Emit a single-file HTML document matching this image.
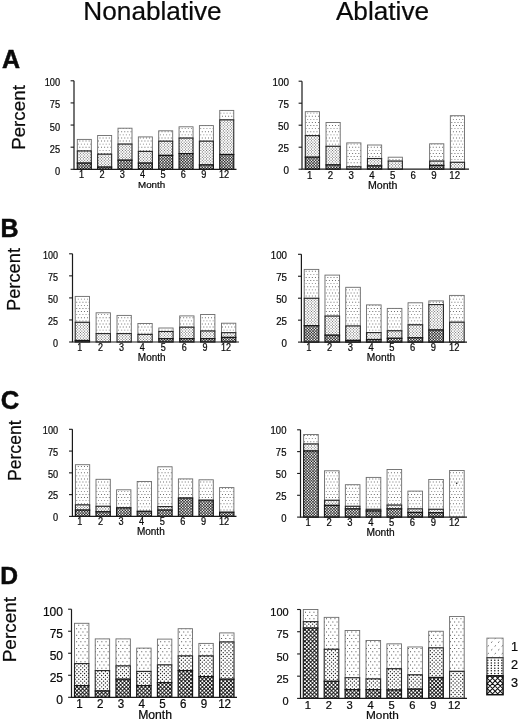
<!DOCTYPE html>
<html lang="en"><head><meta charset="utf-8"><title>Figure</title>
<style>
html,body{margin:0;padding:0;background:#fff;}
body{width:520px;height:720px;overflow:hidden;}
svg{display:block;font-family:"Liberation Sans",Arial,sans-serif;fill:#0a0a0a;}
text{stroke:#0a0a0a;stroke-width:0.22px;}
.pl text{stroke-width:0.5px;}
</style></head><body>
<svg width="520" height="720" viewBox="0 0 520 720">
<defs>
<pattern id="p1" width="31" height="31" patternUnits="userSpaceOnUse">
<rect width="31" height="31" fill="#fff"/>
<path fill="#606060" d="M0.33 1.1h0.9v0.9h-0.9zM1.88 4.2h0.9v0.9h-0.9zM0.33 7.3h0.9v0.9h-0.9zM1.88 10.4h0.9v0.9h-0.9zM0.33 13.5h0.9v0.9h-0.9zM1.88 16.6h0.9v0.9h-0.9zM0.33 19.7h0.9v0.9h-0.9zM1.88 22.8h0.9v0.9h-0.9zM0.33 25.9h0.9v0.9h-0.9zM1.88 29h0.9v0.9h-0.9zM3.42 1.1h0.9v0.9h-0.9zM4.97 4.2h0.9v0.9h-0.9zM3.42 7.3h0.9v0.9h-0.9zM4.97 10.4h0.9v0.9h-0.9zM3.42 13.5h0.9v0.9h-0.9zM4.97 16.6h0.9v0.9h-0.9zM3.42 19.7h0.9v0.9h-0.9zM4.97 22.8h0.9v0.9h-0.9zM3.42 25.9h0.9v0.9h-0.9zM4.97 29h0.9v0.9h-0.9zM6.53 1.1h0.9v0.9h-0.9zM8.08 4.2h0.9v0.9h-0.9zM6.53 7.3h0.9v0.9h-0.9zM8.08 10.4h0.9v0.9h-0.9zM6.53 13.5h0.9v0.9h-0.9zM8.08 16.6h0.9v0.9h-0.9zM6.53 19.7h0.9v0.9h-0.9zM8.08 22.8h0.9v0.9h-0.9zM6.53 25.9h0.9v0.9h-0.9zM8.08 29h0.9v0.9h-0.9zM9.63 1.1h0.9v0.9h-0.9zM11.18 4.2h0.9v0.9h-0.9zM9.63 7.3h0.9v0.9h-0.9zM11.18 10.4h0.9v0.9h-0.9zM9.63 13.5h0.9v0.9h-0.9zM11.18 16.6h0.9v0.9h-0.9zM9.63 19.7h0.9v0.9h-0.9zM11.18 22.8h0.9v0.9h-0.9zM9.63 25.9h0.9v0.9h-0.9zM11.18 29h0.9v0.9h-0.9zM12.73 1.1h0.9v0.9h-0.9zM14.28 4.2h0.9v0.9h-0.9zM12.73 7.3h0.9v0.9h-0.9zM14.28 10.4h0.9v0.9h-0.9zM12.73 13.5h0.9v0.9h-0.9zM14.28 16.6h0.9v0.9h-0.9zM12.73 19.7h0.9v0.9h-0.9zM14.28 22.8h0.9v0.9h-0.9zM12.73 25.9h0.9v0.9h-0.9zM14.28 29h0.9v0.9h-0.9zM15.83 1.1h0.9v0.9h-0.9zM17.38 4.2h0.9v0.9h-0.9zM15.83 7.3h0.9v0.9h-0.9zM17.38 10.4h0.9v0.9h-0.9zM15.83 13.5h0.9v0.9h-0.9zM17.38 16.6h0.9v0.9h-0.9zM15.83 19.7h0.9v0.9h-0.9zM17.38 22.8h0.9v0.9h-0.9zM15.83 25.9h0.9v0.9h-0.9zM17.38 29h0.9v0.9h-0.9zM18.93 1.1h0.9v0.9h-0.9zM20.48 4.2h0.9v0.9h-0.9zM18.93 7.3h0.9v0.9h-0.9zM20.48 10.4h0.9v0.9h-0.9zM18.93 13.5h0.9v0.9h-0.9zM20.48 16.6h0.9v0.9h-0.9zM18.93 19.7h0.9v0.9h-0.9zM20.48 22.8h0.9v0.9h-0.9zM18.93 25.9h0.9v0.9h-0.9zM20.48 29h0.9v0.9h-0.9zM22.03 1.1h0.9v0.9h-0.9zM23.58 4.2h0.9v0.9h-0.9zM22.03 7.3h0.9v0.9h-0.9zM23.58 10.4h0.9v0.9h-0.9zM22.03 13.5h0.9v0.9h-0.9zM23.58 16.6h0.9v0.9h-0.9zM22.03 19.7h0.9v0.9h-0.9zM23.58 22.8h0.9v0.9h-0.9zM22.03 25.9h0.9v0.9h-0.9zM23.58 29h0.9v0.9h-0.9zM25.12 1.1h0.9v0.9h-0.9zM26.68 4.2h0.9v0.9h-0.9zM25.12 7.3h0.9v0.9h-0.9zM26.68 10.4h0.9v0.9h-0.9zM25.12 13.5h0.9v0.9h-0.9zM26.68 16.6h0.9v0.9h-0.9zM25.12 19.7h0.9v0.9h-0.9zM26.68 22.8h0.9v0.9h-0.9zM25.12 25.9h0.9v0.9h-0.9zM26.68 29h0.9v0.9h-0.9zM28.23 1.1h0.9v0.9h-0.9zM29.78 4.2h0.9v0.9h-0.9zM28.23 7.3h0.9v0.9h-0.9zM29.78 10.4h0.9v0.9h-0.9zM28.23 13.5h0.9v0.9h-0.9zM29.78 16.6h0.9v0.9h-0.9zM28.23 19.7h0.9v0.9h-0.9zM29.78 22.8h0.9v0.9h-0.9zM28.23 25.9h0.9v0.9h-0.9zM29.78 29h0.9v0.9h-0.9z"/>
</pattern>
<pattern id="p2" width="14" height="14" patternUnits="userSpaceOnUse">
<rect width="14" height="14" fill="#fff"/>
<path fill="#5c5c5c" d="M0.14 0.7a0.56 0.56 0 1 0 1.12 0a0.56 0.56 0 1 0 -1.12 0zM1.54 2.1a0.56 0.56 0 1 0 1.12 0a0.56 0.56 0 1 0 -1.12 0zM0.14 3.5a0.56 0.56 0 1 0 1.12 0a0.56 0.56 0 1 0 -1.12 0zM1.54 4.9a0.56 0.56 0 1 0 1.12 0a0.56 0.56 0 1 0 -1.12 0zM0.14 6.3a0.56 0.56 0 1 0 1.12 0a0.56 0.56 0 1 0 -1.12 0zM1.54 7.7a0.56 0.56 0 1 0 1.12 0a0.56 0.56 0 1 0 -1.12 0zM0.14 9.1a0.56 0.56 0 1 0 1.12 0a0.56 0.56 0 1 0 -1.12 0zM1.54 10.5a0.56 0.56 0 1 0 1.12 0a0.56 0.56 0 1 0 -1.12 0zM0.14 11.9a0.56 0.56 0 1 0 1.12 0a0.56 0.56 0 1 0 -1.12 0zM1.54 13.3a0.56 0.56 0 1 0 1.12 0a0.56 0.56 0 1 0 -1.12 0zM2.94 0.7a0.56 0.56 0 1 0 1.12 0a0.56 0.56 0 1 0 -1.12 0zM4.34 2.1a0.56 0.56 0 1 0 1.12 0a0.56 0.56 0 1 0 -1.12 0zM2.94 3.5a0.56 0.56 0 1 0 1.12 0a0.56 0.56 0 1 0 -1.12 0zM4.34 4.9a0.56 0.56 0 1 0 1.12 0a0.56 0.56 0 1 0 -1.12 0zM2.94 6.3a0.56 0.56 0 1 0 1.12 0a0.56 0.56 0 1 0 -1.12 0zM4.34 7.7a0.56 0.56 0 1 0 1.12 0a0.56 0.56 0 1 0 -1.12 0zM2.94 9.1a0.56 0.56 0 1 0 1.12 0a0.56 0.56 0 1 0 -1.12 0zM4.34 10.5a0.56 0.56 0 1 0 1.12 0a0.56 0.56 0 1 0 -1.12 0zM2.94 11.9a0.56 0.56 0 1 0 1.12 0a0.56 0.56 0 1 0 -1.12 0zM4.34 13.3a0.56 0.56 0 1 0 1.12 0a0.56 0.56 0 1 0 -1.12 0zM5.74 0.7a0.56 0.56 0 1 0 1.12 0a0.56 0.56 0 1 0 -1.12 0zM7.14 2.1a0.56 0.56 0 1 0 1.12 0a0.56 0.56 0 1 0 -1.12 0zM5.74 3.5a0.56 0.56 0 1 0 1.12 0a0.56 0.56 0 1 0 -1.12 0zM7.14 4.9a0.56 0.56 0 1 0 1.12 0a0.56 0.56 0 1 0 -1.12 0zM5.74 6.3a0.56 0.56 0 1 0 1.12 0a0.56 0.56 0 1 0 -1.12 0zM7.14 7.7a0.56 0.56 0 1 0 1.12 0a0.56 0.56 0 1 0 -1.12 0zM5.74 9.1a0.56 0.56 0 1 0 1.12 0a0.56 0.56 0 1 0 -1.12 0zM7.14 10.5a0.56 0.56 0 1 0 1.12 0a0.56 0.56 0 1 0 -1.12 0zM5.74 11.9a0.56 0.56 0 1 0 1.12 0a0.56 0.56 0 1 0 -1.12 0zM7.14 13.3a0.56 0.56 0 1 0 1.12 0a0.56 0.56 0 1 0 -1.12 0zM8.54 0.7a0.56 0.56 0 1 0 1.12 0a0.56 0.56 0 1 0 -1.12 0zM9.94 2.1a0.56 0.56 0 1 0 1.12 0a0.56 0.56 0 1 0 -1.12 0zM8.54 3.5a0.56 0.56 0 1 0 1.12 0a0.56 0.56 0 1 0 -1.12 0zM9.94 4.9a0.56 0.56 0 1 0 1.12 0a0.56 0.56 0 1 0 -1.12 0zM8.54 6.3a0.56 0.56 0 1 0 1.12 0a0.56 0.56 0 1 0 -1.12 0zM9.94 7.7a0.56 0.56 0 1 0 1.12 0a0.56 0.56 0 1 0 -1.12 0zM8.54 9.1a0.56 0.56 0 1 0 1.12 0a0.56 0.56 0 1 0 -1.12 0zM9.94 10.5a0.56 0.56 0 1 0 1.12 0a0.56 0.56 0 1 0 -1.12 0zM8.54 11.9a0.56 0.56 0 1 0 1.12 0a0.56 0.56 0 1 0 -1.12 0zM9.94 13.3a0.56 0.56 0 1 0 1.12 0a0.56 0.56 0 1 0 -1.12 0zM11.34 0.7a0.56 0.56 0 1 0 1.12 0a0.56 0.56 0 1 0 -1.12 0zM12.74 2.1a0.56 0.56 0 1 0 1.12 0a0.56 0.56 0 1 0 -1.12 0zM11.34 3.5a0.56 0.56 0 1 0 1.12 0a0.56 0.56 0 1 0 -1.12 0zM12.74 4.9a0.56 0.56 0 1 0 1.12 0a0.56 0.56 0 1 0 -1.12 0zM11.34 6.3a0.56 0.56 0 1 0 1.12 0a0.56 0.56 0 1 0 -1.12 0zM12.74 7.7a0.56 0.56 0 1 0 1.12 0a0.56 0.56 0 1 0 -1.12 0zM11.34 9.1a0.56 0.56 0 1 0 1.12 0a0.56 0.56 0 1 0 -1.12 0zM12.74 10.5a0.56 0.56 0 1 0 1.12 0a0.56 0.56 0 1 0 -1.12 0zM11.34 11.9a0.56 0.56 0 1 0 1.12 0a0.56 0.56 0 1 0 -1.12 0zM12.74 13.3a0.56 0.56 0 1 0 1.12 0a0.56 0.56 0 1 0 -1.12 0z"/>
</pattern>
<pattern id="p3" width="14" height="14" patternUnits="userSpaceOnUse">
<rect width="14" height="14" fill="#1c1c1c"/>
<path fill="#fff" d="M-0.26 0.7L0.7 -0.26L1.66 0.7L0.7 1.66zM1.14 2.1L2.1 1.14L3.06 2.1L2.1 3.06zM-0.26 3.5L0.7 2.54L1.66 3.5L0.7 4.46zM1.14 4.9L2.1 3.94L3.06 4.9L2.1 5.86zM-0.26 6.3L0.7 5.34L1.66 6.3L0.7 7.26zM1.14 7.7L2.1 6.74L3.06 7.7L2.1 8.66zM-0.26 9.1L0.7 8.14L1.66 9.1L0.7 10.06zM1.14 10.5L2.1 9.54L3.06 10.5L2.1 11.46zM-0.26 11.9L0.7 10.94L1.66 11.9L0.7 12.86zM1.14 13.3L2.1 12.34L3.06 13.3L2.1 14.26zM2.54 0.7L3.5 -0.26L4.46 0.7L3.5 1.66zM3.94 2.1L4.9 1.14L5.86 2.1L4.9 3.06zM2.54 3.5L3.5 2.54L4.46 3.5L3.5 4.46zM3.94 4.9L4.9 3.94L5.86 4.9L4.9 5.86zM2.54 6.3L3.5 5.34L4.46 6.3L3.5 7.26zM3.94 7.7L4.9 6.74L5.86 7.7L4.9 8.66zM2.54 9.1L3.5 8.14L4.46 9.1L3.5 10.06zM3.94 10.5L4.9 9.54L5.86 10.5L4.9 11.46zM2.54 11.9L3.5 10.94L4.46 11.9L3.5 12.86zM3.94 13.3L4.9 12.34L5.86 13.3L4.9 14.26zM5.34 0.7L6.3 -0.26L7.26 0.7L6.3 1.66zM6.74 2.1L7.7 1.14L8.66 2.1L7.7 3.06zM5.34 3.5L6.3 2.54L7.26 3.5L6.3 4.46zM6.74 4.9L7.7 3.94L8.66 4.9L7.7 5.86zM5.34 6.3L6.3 5.34L7.26 6.3L6.3 7.26zM6.74 7.7L7.7 6.74L8.66 7.7L7.7 8.66zM5.34 9.1L6.3 8.14L7.26 9.1L6.3 10.06zM6.74 10.5L7.7 9.54L8.66 10.5L7.7 11.46zM5.34 11.9L6.3 10.94L7.26 11.9L6.3 12.86zM6.74 13.3L7.7 12.34L8.66 13.3L7.7 14.26zM8.14 0.7L9.1 -0.26L10.06 0.7L9.1 1.66zM9.54 2.1L10.5 1.14L11.46 2.1L10.5 3.06zM8.14 3.5L9.1 2.54L10.06 3.5L9.1 4.46zM9.54 4.9L10.5 3.94L11.46 4.9L10.5 5.86zM8.14 6.3L9.1 5.34L10.06 6.3L9.1 7.26zM9.54 7.7L10.5 6.74L11.46 7.7L10.5 8.66zM8.14 9.1L9.1 8.14L10.06 9.1L9.1 10.06zM9.54 10.5L10.5 9.54L11.46 10.5L10.5 11.46zM8.14 11.9L9.1 10.94L10.06 11.9L9.1 12.86zM9.54 13.3L10.5 12.34L11.46 13.3L10.5 14.26zM10.94 0.7L11.9 -0.26L12.86 0.7L11.9 1.66zM12.34 2.1L13.3 1.14L14.26 2.1L13.3 3.06zM10.94 3.5L11.9 2.54L12.86 3.5L11.9 4.46zM12.34 4.9L13.3 3.94L14.26 4.9L13.3 5.86zM10.94 6.3L11.9 5.34L12.86 6.3L11.9 7.26zM12.34 7.7L13.3 6.74L14.26 7.7L13.3 8.66zM10.94 9.1L11.9 8.14L12.86 9.1L11.9 10.06zM12.34 10.5L13.3 9.54L14.26 10.5L13.3 11.46zM10.94 11.9L11.9 10.94L12.86 11.9L11.9 12.86zM12.34 13.3L13.3 12.34L14.26 13.3L13.3 14.26z"/>
</pattern>
<pattern id="q1" width="21" height="33" patternUnits="userSpaceOnUse">
<rect width="21" height="33" fill="#fff"/>
<path fill="#484848" d="M0.57 1.17h0.96v0.96h-0.96zM2.67 4.47h0.96v0.96h-0.96zM0.57 7.77h0.96v0.96h-0.96zM2.67 11.07h0.96v0.96h-0.96zM0.57 14.37h0.96v0.96h-0.96zM2.67 17.67h0.96v0.96h-0.96zM0.57 20.97h0.96v0.96h-0.96zM2.67 24.27h0.96v0.96h-0.96zM0.57 27.57h0.96v0.96h-0.96zM2.67 30.87h0.96v0.96h-0.96zM4.77 1.17h0.96v0.96h-0.96zM6.87 4.47h0.96v0.96h-0.96zM4.77 7.77h0.96v0.96h-0.96zM6.87 11.07h0.96v0.96h-0.96zM4.77 14.37h0.96v0.96h-0.96zM6.87 17.67h0.96v0.96h-0.96zM4.77 20.97h0.96v0.96h-0.96zM6.87 24.27h0.96v0.96h-0.96zM4.77 27.57h0.96v0.96h-0.96zM6.87 30.87h0.96v0.96h-0.96zM8.97 1.17h0.96v0.96h-0.96zM11.07 4.47h0.96v0.96h-0.96zM8.97 7.77h0.96v0.96h-0.96zM11.07 11.07h0.96v0.96h-0.96zM8.97 14.37h0.96v0.96h-0.96zM11.07 17.67h0.96v0.96h-0.96zM8.97 20.97h0.96v0.96h-0.96zM11.07 24.27h0.96v0.96h-0.96zM8.97 27.57h0.96v0.96h-0.96zM11.07 30.87h0.96v0.96h-0.96zM13.17 1.17h0.96v0.96h-0.96zM15.27 4.47h0.96v0.96h-0.96zM13.17 7.77h0.96v0.96h-0.96zM15.27 11.07h0.96v0.96h-0.96zM13.17 14.37h0.96v0.96h-0.96zM15.27 17.67h0.96v0.96h-0.96zM13.17 20.97h0.96v0.96h-0.96zM15.27 24.27h0.96v0.96h-0.96zM13.17 27.57h0.96v0.96h-0.96zM15.27 30.87h0.96v0.96h-0.96zM17.37 1.17h0.96v0.96h-0.96zM19.47 4.47h0.96v0.96h-0.96zM17.37 7.77h0.96v0.96h-0.96zM19.47 11.07h0.96v0.96h-0.96zM17.37 14.37h0.96v0.96h-0.96zM19.47 17.67h0.96v0.96h-0.96zM17.37 20.97h0.96v0.96h-0.96zM19.47 24.27h0.96v0.96h-0.96zM17.37 27.57h0.96v0.96h-0.96zM19.47 30.87h0.96v0.96h-0.96z"/>
</pattern>
<pattern id="q2" width="19" height="19" patternUnits="userSpaceOnUse">
<rect width="19" height="19" fill="#fff"/>
<path fill="#222" d="M0.25 0.95a0.7 0.7 0 1 0 1.4 0a0.7 0.7 0 1 0 -1.4 0zM2.15 2.85a0.7 0.7 0 1 0 1.4 0a0.7 0.7 0 1 0 -1.4 0zM0.25 4.75a0.7 0.7 0 1 0 1.4 0a0.7 0.7 0 1 0 -1.4 0zM2.15 6.65a0.7 0.7 0 1 0 1.4 0a0.7 0.7 0 1 0 -1.4 0zM0.25 8.55a0.7 0.7 0 1 0 1.4 0a0.7 0.7 0 1 0 -1.4 0zM2.15 10.45a0.7 0.7 0 1 0 1.4 0a0.7 0.7 0 1 0 -1.4 0zM0.25 12.35a0.7 0.7 0 1 0 1.4 0a0.7 0.7 0 1 0 -1.4 0zM2.15 14.25a0.7 0.7 0 1 0 1.4 0a0.7 0.7 0 1 0 -1.4 0zM0.25 16.15a0.7 0.7 0 1 0 1.4 0a0.7 0.7 0 1 0 -1.4 0zM2.15 18.05a0.7 0.7 0 1 0 1.4 0a0.7 0.7 0 1 0 -1.4 0zM4.05 0.95a0.7 0.7 0 1 0 1.4 0a0.7 0.7 0 1 0 -1.4 0zM5.95 2.85a0.7 0.7 0 1 0 1.4 0a0.7 0.7 0 1 0 -1.4 0zM4.05 4.75a0.7 0.7 0 1 0 1.4 0a0.7 0.7 0 1 0 -1.4 0zM5.95 6.65a0.7 0.7 0 1 0 1.4 0a0.7 0.7 0 1 0 -1.4 0zM4.05 8.55a0.7 0.7 0 1 0 1.4 0a0.7 0.7 0 1 0 -1.4 0zM5.95 10.45a0.7 0.7 0 1 0 1.4 0a0.7 0.7 0 1 0 -1.4 0zM4.05 12.35a0.7 0.7 0 1 0 1.4 0a0.7 0.7 0 1 0 -1.4 0zM5.95 14.25a0.7 0.7 0 1 0 1.4 0a0.7 0.7 0 1 0 -1.4 0zM4.05 16.15a0.7 0.7 0 1 0 1.4 0a0.7 0.7 0 1 0 -1.4 0zM5.95 18.05a0.7 0.7 0 1 0 1.4 0a0.7 0.7 0 1 0 -1.4 0zM7.85 0.95a0.7 0.7 0 1 0 1.4 0a0.7 0.7 0 1 0 -1.4 0zM9.75 2.85a0.7 0.7 0 1 0 1.4 0a0.7 0.7 0 1 0 -1.4 0zM7.85 4.75a0.7 0.7 0 1 0 1.4 0a0.7 0.7 0 1 0 -1.4 0zM9.75 6.65a0.7 0.7 0 1 0 1.4 0a0.7 0.7 0 1 0 -1.4 0zM7.85 8.55a0.7 0.7 0 1 0 1.4 0a0.7 0.7 0 1 0 -1.4 0zM9.75 10.45a0.7 0.7 0 1 0 1.4 0a0.7 0.7 0 1 0 -1.4 0zM7.85 12.35a0.7 0.7 0 1 0 1.4 0a0.7 0.7 0 1 0 -1.4 0zM9.75 14.25a0.7 0.7 0 1 0 1.4 0a0.7 0.7 0 1 0 -1.4 0zM7.85 16.15a0.7 0.7 0 1 0 1.4 0a0.7 0.7 0 1 0 -1.4 0zM9.75 18.05a0.7 0.7 0 1 0 1.4 0a0.7 0.7 0 1 0 -1.4 0zM11.65 0.95a0.7 0.7 0 1 0 1.4 0a0.7 0.7 0 1 0 -1.4 0zM13.55 2.85a0.7 0.7 0 1 0 1.4 0a0.7 0.7 0 1 0 -1.4 0zM11.65 4.75a0.7 0.7 0 1 0 1.4 0a0.7 0.7 0 1 0 -1.4 0zM13.55 6.65a0.7 0.7 0 1 0 1.4 0a0.7 0.7 0 1 0 -1.4 0zM11.65 8.55a0.7 0.7 0 1 0 1.4 0a0.7 0.7 0 1 0 -1.4 0zM13.55 10.45a0.7 0.7 0 1 0 1.4 0a0.7 0.7 0 1 0 -1.4 0zM11.65 12.35a0.7 0.7 0 1 0 1.4 0a0.7 0.7 0 1 0 -1.4 0zM13.55 14.25a0.7 0.7 0 1 0 1.4 0a0.7 0.7 0 1 0 -1.4 0zM11.65 16.15a0.7 0.7 0 1 0 1.4 0a0.7 0.7 0 1 0 -1.4 0zM13.55 18.05a0.7 0.7 0 1 0 1.4 0a0.7 0.7 0 1 0 -1.4 0zM15.45 0.95a0.7 0.7 0 1 0 1.4 0a0.7 0.7 0 1 0 -1.4 0zM17.35 2.85a0.7 0.7 0 1 0 1.4 0a0.7 0.7 0 1 0 -1.4 0zM15.45 4.75a0.7 0.7 0 1 0 1.4 0a0.7 0.7 0 1 0 -1.4 0zM17.35 6.65a0.7 0.7 0 1 0 1.4 0a0.7 0.7 0 1 0 -1.4 0zM15.45 8.55a0.7 0.7 0 1 0 1.4 0a0.7 0.7 0 1 0 -1.4 0zM17.35 10.45a0.7 0.7 0 1 0 1.4 0a0.7 0.7 0 1 0 -1.4 0zM15.45 12.35a0.7 0.7 0 1 0 1.4 0a0.7 0.7 0 1 0 -1.4 0zM17.35 14.25a0.7 0.7 0 1 0 1.4 0a0.7 0.7 0 1 0 -1.4 0zM15.45 16.15a0.7 0.7 0 1 0 1.4 0a0.7 0.7 0 1 0 -1.4 0zM17.35 18.05a0.7 0.7 0 1 0 1.4 0a0.7 0.7 0 1 0 -1.4 0z"/>
</pattern>
<pattern id="q3" width="19" height="19" patternUnits="userSpaceOnUse">
<rect width="19" height="19" fill="#1c1c1c"/>
<path fill="#fff" d="M-0.05 0.95a1.0 1.0 0 1 0 2 0a1.0 1.0 0 1 0 -2 0zM1.85 2.85a1.0 1.0 0 1 0 2 0a1.0 1.0 0 1 0 -2 0zM-0.05 4.75a1.0 1.0 0 1 0 2 0a1.0 1.0 0 1 0 -2 0zM1.85 6.65a1.0 1.0 0 1 0 2 0a1.0 1.0 0 1 0 -2 0zM-0.05 8.55a1.0 1.0 0 1 0 2 0a1.0 1.0 0 1 0 -2 0zM1.85 10.45a1.0 1.0 0 1 0 2 0a1.0 1.0 0 1 0 -2 0zM-0.05 12.35a1.0 1.0 0 1 0 2 0a1.0 1.0 0 1 0 -2 0zM1.85 14.25a1.0 1.0 0 1 0 2 0a1.0 1.0 0 1 0 -2 0zM-0.05 16.15a1.0 1.0 0 1 0 2 0a1.0 1.0 0 1 0 -2 0zM1.85 18.05a1.0 1.0 0 1 0 2 0a1.0 1.0 0 1 0 -2 0zM3.75 0.95a1.0 1.0 0 1 0 2 0a1.0 1.0 0 1 0 -2 0zM5.65 2.85a1.0 1.0 0 1 0 2 0a1.0 1.0 0 1 0 -2 0zM3.75 4.75a1.0 1.0 0 1 0 2 0a1.0 1.0 0 1 0 -2 0zM5.65 6.65a1.0 1.0 0 1 0 2 0a1.0 1.0 0 1 0 -2 0zM3.75 8.55a1.0 1.0 0 1 0 2 0a1.0 1.0 0 1 0 -2 0zM5.65 10.45a1.0 1.0 0 1 0 2 0a1.0 1.0 0 1 0 -2 0zM3.75 12.35a1.0 1.0 0 1 0 2 0a1.0 1.0 0 1 0 -2 0zM5.65 14.25a1.0 1.0 0 1 0 2 0a1.0 1.0 0 1 0 -2 0zM3.75 16.15a1.0 1.0 0 1 0 2 0a1.0 1.0 0 1 0 -2 0zM5.65 18.05a1.0 1.0 0 1 0 2 0a1.0 1.0 0 1 0 -2 0zM7.55 0.95a1.0 1.0 0 1 0 2 0a1.0 1.0 0 1 0 -2 0zM9.45 2.85a1.0 1.0 0 1 0 2 0a1.0 1.0 0 1 0 -2 0zM7.55 4.75a1.0 1.0 0 1 0 2 0a1.0 1.0 0 1 0 -2 0zM9.45 6.65a1.0 1.0 0 1 0 2 0a1.0 1.0 0 1 0 -2 0zM7.55 8.55a1.0 1.0 0 1 0 2 0a1.0 1.0 0 1 0 -2 0zM9.45 10.45a1.0 1.0 0 1 0 2 0a1.0 1.0 0 1 0 -2 0zM7.55 12.35a1.0 1.0 0 1 0 2 0a1.0 1.0 0 1 0 -2 0zM9.45 14.25a1.0 1.0 0 1 0 2 0a1.0 1.0 0 1 0 -2 0zM7.55 16.15a1.0 1.0 0 1 0 2 0a1.0 1.0 0 1 0 -2 0zM9.45 18.05a1.0 1.0 0 1 0 2 0a1.0 1.0 0 1 0 -2 0zM11.35 0.95a1.0 1.0 0 1 0 2 0a1.0 1.0 0 1 0 -2 0zM13.25 2.85a1.0 1.0 0 1 0 2 0a1.0 1.0 0 1 0 -2 0zM11.35 4.75a1.0 1.0 0 1 0 2 0a1.0 1.0 0 1 0 -2 0zM13.25 6.65a1.0 1.0 0 1 0 2 0a1.0 1.0 0 1 0 -2 0zM11.35 8.55a1.0 1.0 0 1 0 2 0a1.0 1.0 0 1 0 -2 0zM13.25 10.45a1.0 1.0 0 1 0 2 0a1.0 1.0 0 1 0 -2 0zM11.35 12.35a1.0 1.0 0 1 0 2 0a1.0 1.0 0 1 0 -2 0zM13.25 14.25a1.0 1.0 0 1 0 2 0a1.0 1.0 0 1 0 -2 0zM11.35 16.15a1.0 1.0 0 1 0 2 0a1.0 1.0 0 1 0 -2 0zM13.25 18.05a1.0 1.0 0 1 0 2 0a1.0 1.0 0 1 0 -2 0zM15.15 0.95a1.0 1.0 0 1 0 2 0a1.0 1.0 0 1 0 -2 0zM17.05 2.85a1.0 1.0 0 1 0 2 0a1.0 1.0 0 1 0 -2 0zM15.15 4.75a1.0 1.0 0 1 0 2 0a1.0 1.0 0 1 0 -2 0zM17.05 6.65a1.0 1.0 0 1 0 2 0a1.0 1.0 0 1 0 -2 0zM15.15 8.55a1.0 1.0 0 1 0 2 0a1.0 1.0 0 1 0 -2 0zM17.05 10.45a1.0 1.0 0 1 0 2 0a1.0 1.0 0 1 0 -2 0zM15.15 12.35a1.0 1.0 0 1 0 2 0a1.0 1.0 0 1 0 -2 0zM17.05 14.25a1.0 1.0 0 1 0 2 0a1.0 1.0 0 1 0 -2 0zM15.15 16.15a1.0 1.0 0 1 0 2 0a1.0 1.0 0 1 0 -2 0zM17.05 18.05a1.0 1.0 0 1 0 2 0a1.0 1.0 0 1 0 -2 0z"/>
</pattern>
</defs>
<rect width="520" height="720" fill="#fff"/>
<text x="152.5" y="20.3" font-size="26.2" text-anchor="middle">Nonablative</text>
<text x="382.5" y="20.3" font-size="26.2" text-anchor="middle">Ablative</text>
<g class="pl" font-weight="bold" font-size="25">
<text x="2" y="67.8">A</text>
<text x="0.5" y="237.1">B</text>
<text x="0.8" y="409.2" font-size="25.6">C</text>
<text x="0.3" y="584.2" font-size="24.6">D</text>
</g>
<g font-size="18.8" text-anchor="middle">
<text transform="translate(24.9 117.5) rotate(-90)">Percent</text>
<text transform="translate(20.3 279.5) rotate(-90)" font-size="18.3">Percent</text>
<text transform="translate(20.6 450.7) rotate(-90)" font-size="17.6">Percent</text>
<text transform="translate(15.8 629.6) rotate(-90)" font-size="19">Percent</text>
</g>
<g id="AL">
<text transform="translate(81.6 178.2) scale(0.9 1)" font-size="10.2" text-anchor="middle">1</text>
<rect x="77.3" y="139.4" width="14" height="11.6" fill="url(#p1)" stroke="#6c6c6c" stroke-width="0.9"/>
<rect x="77.3" y="151" width="14" height="12.1" fill="url(#p2)" stroke="#262626" stroke-width="1.1"/>
<rect x="77.3" y="163.1" width="14" height="6.2" fill="url(#p3)" stroke="#161616" stroke-width="1.2"/>
<text transform="translate(101.95 178.2) scale(0.9 1)" font-size="10.2" text-anchor="middle">2</text>
<rect x="97.65" y="135.5" width="14" height="18.7" fill="url(#p1)" stroke="#6c6c6c" stroke-width="0.9"/>
<rect x="97.65" y="154.2" width="14" height="12.9" fill="url(#p2)" stroke="#262626" stroke-width="1.1"/>
<rect x="97.65" y="167.1" width="14" height="2.2" fill="url(#p3)" stroke="#161616" stroke-width="1.2"/>
<text transform="translate(122.3 178.2) scale(0.9 1)" font-size="10.2" text-anchor="middle">3</text>
<rect x="118" y="128.2" width="14" height="15.9" fill="url(#p1)" stroke="#6c6c6c" stroke-width="0.9"/>
<rect x="118" y="144.1" width="14" height="16.1" fill="url(#p2)" stroke="#262626" stroke-width="1.1"/>
<rect x="118" y="160.2" width="14" height="9.1" fill="url(#p3)" stroke="#161616" stroke-width="1.2"/>
<text transform="translate(142.65 178.2) scale(0.9 1)" font-size="10.2" text-anchor="middle">4</text>
<rect x="138.35" y="136.9" width="14" height="14.5" fill="url(#p1)" stroke="#6c6c6c" stroke-width="0.9"/>
<rect x="138.35" y="151.4" width="14" height="11.7" fill="url(#p2)" stroke="#262626" stroke-width="1.1"/>
<rect x="138.35" y="163.1" width="14" height="6.2" fill="url(#p3)" stroke="#161616" stroke-width="1.2"/>
<text transform="translate(163 178.2) scale(0.9 1)" font-size="10.2" text-anchor="middle">5</text>
<rect x="158.7" y="130.8" width="14" height="10.4" fill="url(#p1)" stroke="#6c6c6c" stroke-width="0.9"/>
<rect x="158.7" y="141.2" width="14" height="14.2" fill="url(#p2)" stroke="#262626" stroke-width="1.1"/>
<rect x="158.7" y="155.4" width="14" height="13.9" fill="url(#p3)" stroke="#161616" stroke-width="1.2"/>
<text transform="translate(183.35 178.2) scale(0.9 1)" font-size="10.2" text-anchor="middle">6</text>
<rect x="179.05" y="126.8" width="14" height="11.3" fill="url(#p1)" stroke="#6c6c6c" stroke-width="0.9"/>
<rect x="179.05" y="138.1" width="14" height="15.5" fill="url(#p2)" stroke="#262626" stroke-width="1.1"/>
<rect x="179.05" y="153.6" width="14" height="15.7" fill="url(#p3)" stroke="#161616" stroke-width="1.2"/>
<text transform="translate(203.7 178.2) scale(0.9 1)" font-size="10.2" text-anchor="middle">9</text>
<rect x="199.4" y="125.6" width="14" height="15.6" fill="url(#p1)" stroke="#6c6c6c" stroke-width="0.9"/>
<rect x="199.4" y="141.2" width="14" height="23.7" fill="url(#p2)" stroke="#262626" stroke-width="1.1"/>
<rect x="199.4" y="164.9" width="14" height="4.4" fill="url(#p3)" stroke="#161616" stroke-width="1.2"/>
<text transform="translate(224.05 178.2) scale(0.9 1)" font-size="10.2" text-anchor="middle">12</text>
<rect x="219.75" y="110.4" width="14" height="9.5" fill="url(#p1)" stroke="#6c6c6c" stroke-width="0.9"/>
<rect x="219.75" y="119.9" width="14" height="34.6" fill="url(#p2)" stroke="#262626" stroke-width="1.1"/>
<rect x="219.75" y="154.5" width="14" height="14.8" fill="url(#p3)" stroke="#161616" stroke-width="1.2"/>
<path d="M74 80.8V169.3H236.5" fill="none" stroke="#1a1a1a" stroke-width="1.2"/>
<path d="M70.6 169.3H74" stroke="#1a1a1a" stroke-width="1.1"/>
<text transform="translate(60.1 174.79) scale(0.9 1)" font-size="10.3" text-anchor="end">0</text>
<path d="M70.6 147.18H74" stroke="#1a1a1a" stroke-width="1.1"/>
<text transform="translate(60.1 152.66) scale(0.9 1)" font-size="10.3" text-anchor="end">25</text>
<path d="M70.6 125.05H74" stroke="#1a1a1a" stroke-width="1.1"/>
<text transform="translate(60.1 130.54) scale(0.9 1)" font-size="10.3" text-anchor="end">50</text>
<path d="M70.6 102.92H74" stroke="#1a1a1a" stroke-width="1.1"/>
<text transform="translate(60.1 108.41) scale(0.9 1)" font-size="10.3" text-anchor="end">75</text>
<path d="M70.6 80.8H74" stroke="#1a1a1a" stroke-width="1.1"/>
<text transform="translate(60.1 86.29) scale(0.9 1)" font-size="10.3" text-anchor="end">100</text>
<text transform="translate(151.6 188.25) scale(1 1)" font-size="9.8" text-anchor="middle">Month</text>
</g>
<g id="AR">
<text transform="translate(309.7 179.25) scale(0.93 1)" font-size="10.4" text-anchor="middle">1</text>
<rect x="305.3" y="111.7" width="14.2" height="23.9" fill="url(#p1)" stroke="#6c6c6c" stroke-width="0.9"/>
<rect x="305.3" y="135.6" width="14.2" height="21.6" fill="url(#p2)" stroke="#262626" stroke-width="1.1"/>
<rect x="305.3" y="157.2" width="14.2" height="12" fill="url(#p3)" stroke="#161616" stroke-width="1.2"/>
<text transform="translate(330.42 179.25) scale(0.93 1)" font-size="10.4" text-anchor="middle">2</text>
<rect x="326.02" y="122.5" width="14.2" height="23.8" fill="url(#p1)" stroke="#6c6c6c" stroke-width="0.9"/>
<rect x="326.02" y="146.3" width="14.2" height="18.6" fill="url(#p2)" stroke="#262626" stroke-width="1.1"/>
<rect x="326.02" y="164.9" width="14.2" height="4.3" fill="url(#p3)" stroke="#161616" stroke-width="1.2"/>
<text transform="translate(351.14 179.25) scale(0.93 1)" font-size="10.4" text-anchor="middle">3</text>
<rect x="346.74" y="142.9" width="14.2" height="23.9" fill="url(#p1)" stroke="#6c6c6c" stroke-width="0.9"/>
<rect x="346.74" y="166.8" width="14.2" height="2.4" fill="url(#p2)" stroke="#262626" stroke-width="1.1"/>
<text transform="translate(371.86 179.25) scale(0.93 1)" font-size="10.4" text-anchor="middle">4</text>
<rect x="367.46" y="145" width="14.2" height="13.5" fill="url(#p1)" stroke="#6c6c6c" stroke-width="0.9"/>
<rect x="367.46" y="158.5" width="14.2" height="7.4" fill="url(#p2)" stroke="#262626" stroke-width="1.1"/>
<rect x="367.46" y="165.9" width="14.2" height="3.3" fill="url(#p3)" stroke="#161616" stroke-width="1.2"/>
<text transform="translate(392.58 179.25) scale(0.93 1)" font-size="10.4" text-anchor="middle">5</text>
<rect x="388.18" y="157.2" width="14.2" height="3.9" fill="url(#p1)" stroke="#6c6c6c" stroke-width="0.9"/>
<rect x="388.18" y="161.1" width="14.2" height="8.1" fill="url(#p2)" stroke="#262626" stroke-width="1.1"/>
<text transform="translate(413.3 179.25) scale(0.93 1)" font-size="10.4" text-anchor="middle">6</text>
<text transform="translate(434.02 179.25) scale(0.93 1)" font-size="10.4" text-anchor="middle">9</text>
<rect x="429.62" y="143.8" width="14.2" height="17.3" fill="url(#p1)" stroke="#6c6c6c" stroke-width="0.9"/>
<rect x="429.62" y="161.1" width="14.2" height="4.3" fill="url(#p2)" stroke="#262626" stroke-width="1.1"/>
<rect x="429.62" y="165.4" width="14.2" height="3.8" fill="url(#p3)" stroke="#161616" stroke-width="1.2"/>
<text transform="translate(454.74 179.25) scale(0.93 1)" font-size="10.4" text-anchor="middle">12</text>
<rect x="450.34" y="115.7" width="14.2" height="46.6" fill="url(#p1)" stroke="#6c6c6c" stroke-width="0.9"/>
<rect x="450.34" y="162.3" width="14.2" height="6.9" fill="url(#p2)" stroke="#262626" stroke-width="1.1"/>
<path d="M302 81.2V169.2H469" fill="none" stroke="#1a1a1a" stroke-width="1.2"/>
<path d="M298.6 169.2H302" stroke="#1a1a1a" stroke-width="1.1"/>
<text transform="translate(289 174.29) scale(0.93 1)" font-size="10.6" text-anchor="end">0</text>
<path d="M298.6 147.2H302" stroke="#1a1a1a" stroke-width="1.1"/>
<text transform="translate(289 152.29) scale(0.93 1)" font-size="10.6" text-anchor="end">25</text>
<path d="M298.6 125.2H302" stroke="#1a1a1a" stroke-width="1.1"/>
<text transform="translate(289 130.29) scale(0.93 1)" font-size="10.6" text-anchor="end">50</text>
<path d="M298.6 103.2H302" stroke="#1a1a1a" stroke-width="1.1"/>
<text transform="translate(289 108.29) scale(0.93 1)" font-size="10.6" text-anchor="end">75</text>
<path d="M298.6 81.2H302" stroke="#1a1a1a" stroke-width="1.1"/>
<text transform="translate(289 86.29) scale(0.93 1)" font-size="10.6" text-anchor="end">100</text>
<text transform="translate(382.7 188.7) scale(1 1)" font-size="10.6" text-anchor="middle">Month</text>
</g>
<g id="BL">
<text transform="translate(79.65 351.16) scale(0.9 1)" font-size="10" text-anchor="middle">1</text>
<rect x="75.2" y="296.4" width="14.3" height="25.9" fill="url(#p1)" stroke="#6c6c6c" stroke-width="0.9"/>
<rect x="75.2" y="322.3" width="14.3" height="18.2" fill="url(#p2)" stroke="#262626" stroke-width="1.1"/>
<rect x="75.2" y="340.5" width="14.3" height="1.5" fill="url(#p3)" stroke="#161616" stroke-width="1.2"/>
<text transform="translate(100.55 351.16) scale(0.9 1)" font-size="10" text-anchor="middle">2</text>
<rect x="96.1" y="312.8" width="14.3" height="20.8" fill="url(#p1)" stroke="#6c6c6c" stroke-width="0.9"/>
<rect x="96.1" y="333.6" width="14.3" height="8.4" fill="url(#p2)" stroke="#262626" stroke-width="1.1"/>
<text transform="translate(121.45 351.16) scale(0.9 1)" font-size="10" text-anchor="middle">3</text>
<rect x="117" y="315.4" width="14.3" height="18.2" fill="url(#p1)" stroke="#6c6c6c" stroke-width="0.9"/>
<rect x="117" y="333.6" width="14.3" height="8.4" fill="url(#p2)" stroke="#262626" stroke-width="1.1"/>
<text transform="translate(142.35 351.16) scale(0.9 1)" font-size="10" text-anchor="middle">4</text>
<rect x="137.9" y="323.5" width="14.3" height="10.9" fill="url(#p1)" stroke="#6c6c6c" stroke-width="0.9"/>
<rect x="137.9" y="334.4" width="14.3" height="7.6" fill="url(#p2)" stroke="#262626" stroke-width="1.1"/>
<text transform="translate(163.25 351.16) scale(0.9 1)" font-size="10" text-anchor="middle">5</text>
<rect x="158.8" y="328" width="14.3" height="3.5" fill="url(#p1)" stroke="#6c6c6c" stroke-width="0.9"/>
<rect x="158.8" y="331.5" width="14.3" height="7.2" fill="url(#p2)" stroke="#262626" stroke-width="1.1"/>
<rect x="158.8" y="338.7" width="14.3" height="3.3" fill="url(#p3)" stroke="#161616" stroke-width="1.2"/>
<text transform="translate(184.15 351.16) scale(0.9 1)" font-size="10" text-anchor="middle">6</text>
<rect x="179.7" y="315.9" width="14.3" height="11.3" fill="url(#p1)" stroke="#6c6c6c" stroke-width="0.9"/>
<rect x="179.7" y="327.2" width="14.3" height="11.5" fill="url(#p2)" stroke="#262626" stroke-width="1.1"/>
<rect x="179.7" y="338.7" width="14.3" height="3.3" fill="url(#p3)" stroke="#161616" stroke-width="1.2"/>
<text transform="translate(205.05 351.16) scale(0.9 1)" font-size="10" text-anchor="middle">9</text>
<rect x="200.6" y="314.5" width="14.3" height="16.5" fill="url(#p1)" stroke="#6c6c6c" stroke-width="0.9"/>
<rect x="200.6" y="331" width="14.3" height="7.7" fill="url(#p2)" stroke="#262626" stroke-width="1.1"/>
<rect x="200.6" y="338.7" width="14.3" height="3.3" fill="url(#p3)" stroke="#161616" stroke-width="1.2"/>
<text transform="translate(225.95 351.16) scale(0.9 1)" font-size="10" text-anchor="middle">12</text>
<rect x="221.5" y="323.2" width="14.3" height="9.5" fill="url(#p1)" stroke="#6c6c6c" stroke-width="0.9"/>
<rect x="221.5" y="332.7" width="14.3" height="4.7" fill="url(#p2)" stroke="#262626" stroke-width="1.1"/>
<rect x="221.5" y="337.4" width="14.3" height="4.6" fill="url(#p3)" stroke="#161616" stroke-width="1.2"/>
<path d="M72.5 253.8V342H239" fill="none" stroke="#1a1a1a" stroke-width="1.2"/>
<path d="M69.1 342H72.5" stroke="#1a1a1a" stroke-width="1.1"/>
<text transform="translate(57.9 346.88) scale(0.9 1)" font-size="10" text-anchor="end">0</text>
<path d="M69.1 319.95H72.5" stroke="#1a1a1a" stroke-width="1.1"/>
<text transform="translate(57.9 324.83) scale(0.9 1)" font-size="10" text-anchor="end">25</text>
<path d="M69.1 297.9H72.5" stroke="#1a1a1a" stroke-width="1.1"/>
<text transform="translate(57.9 302.78) scale(0.9 1)" font-size="10" text-anchor="end">50</text>
<path d="M69.1 275.85H72.5" stroke="#1a1a1a" stroke-width="1.1"/>
<text transform="translate(57.9 280.73) scale(0.9 1)" font-size="10" text-anchor="end">75</text>
<path d="M69.1 253.8H72.5" stroke="#1a1a1a" stroke-width="1.1"/>
<text transform="translate(57.9 258.68) scale(0.9 1)" font-size="10" text-anchor="end">100</text>
<text transform="translate(151.7 361) scale(1 1)" font-size="10" text-anchor="middle">Month</text>
</g>
<g id="BR">
<text transform="translate(308.8 351) scale(0.92 1)" font-size="10.2" text-anchor="middle">1</text>
<rect x="304.2" y="269.4" width="14.6" height="28.9" fill="url(#p1)" stroke="#6c6c6c" stroke-width="0.9"/>
<rect x="304.2" y="298.3" width="14.6" height="27.4" fill="url(#p2)" stroke="#262626" stroke-width="1.1"/>
<rect x="304.2" y="325.7" width="14.6" height="16.4" fill="url(#p3)" stroke="#161616" stroke-width="1.2"/>
<text transform="translate(329.57 351) scale(0.92 1)" font-size="10.2" text-anchor="middle">2</text>
<rect x="324.97" y="275.1" width="14.6" height="41" fill="url(#p1)" stroke="#6c6c6c" stroke-width="0.9"/>
<rect x="324.97" y="316.1" width="14.6" height="19.1" fill="url(#p2)" stroke="#262626" stroke-width="1.1"/>
<rect x="324.97" y="335.2" width="14.6" height="6.9" fill="url(#p3)" stroke="#161616" stroke-width="1.2"/>
<text transform="translate(350.34 351) scale(0.92 1)" font-size="10.2" text-anchor="middle">3</text>
<rect x="345.74" y="287.3" width="14.6" height="38.7" fill="url(#p1)" stroke="#6c6c6c" stroke-width="0.9"/>
<rect x="345.74" y="326" width="14.6" height="14.4" fill="url(#p2)" stroke="#262626" stroke-width="1.1"/>
<rect x="345.74" y="340.4" width="14.6" height="1.7" fill="url(#p3)" stroke="#161616" stroke-width="1.2"/>
<text transform="translate(371.11 351) scale(0.92 1)" font-size="10.2" text-anchor="middle">4</text>
<rect x="366.51" y="304.9" width="14.6" height="27.7" fill="url(#p1)" stroke="#6c6c6c" stroke-width="0.9"/>
<rect x="366.51" y="332.6" width="14.6" height="6.9" fill="url(#p2)" stroke="#262626" stroke-width="1.1"/>
<rect x="366.51" y="339.5" width="14.6" height="2.6" fill="url(#p3)" stroke="#161616" stroke-width="1.2"/>
<text transform="translate(391.88 351) scale(0.92 1)" font-size="10.2" text-anchor="middle">5</text>
<rect x="387.28" y="308.4" width="14.6" height="22.4" fill="url(#p1)" stroke="#6c6c6c" stroke-width="0.9"/>
<rect x="387.28" y="330.8" width="14.6" height="7.5" fill="url(#p2)" stroke="#262626" stroke-width="1.1"/>
<rect x="387.28" y="338.3" width="14.6" height="3.8" fill="url(#p3)" stroke="#161616" stroke-width="1.2"/>
<text transform="translate(412.65 351) scale(0.92 1)" font-size="10.2" text-anchor="middle">6</text>
<rect x="408.05" y="302.8" width="14.6" height="22" fill="url(#p1)" stroke="#6c6c6c" stroke-width="0.9"/>
<rect x="408.05" y="324.8" width="14.6" height="13" fill="url(#p2)" stroke="#262626" stroke-width="1.1"/>
<rect x="408.05" y="337.8" width="14.6" height="4.3" fill="url(#p3)" stroke="#161616" stroke-width="1.2"/>
<text transform="translate(433.42 351) scale(0.92 1)" font-size="10.2" text-anchor="middle">9</text>
<rect x="428.82" y="300.9" width="14.6" height="3.7" fill="url(#p1)" stroke="#6c6c6c" stroke-width="0.9"/>
<rect x="428.82" y="304.6" width="14.6" height="25.4" fill="url(#p2)" stroke="#262626" stroke-width="1.1"/>
<rect x="428.82" y="330" width="14.6" height="12.1" fill="url(#p3)" stroke="#161616" stroke-width="1.2"/>
<text transform="translate(454.19 351) scale(0.92 1)" font-size="10.2" text-anchor="middle">12</text>
<rect x="449.59" y="295.4" width="14.6" height="26.8" fill="url(#p1)" stroke="#6c6c6c" stroke-width="0.9"/>
<rect x="449.59" y="322.2" width="14.6" height="19.9" fill="url(#p2)" stroke="#262626" stroke-width="1.1"/>
<path d="M301.4 254.3V342.1H467" fill="none" stroke="#1a1a1a" stroke-width="1.2"/>
<path d="M298 342.1H301.4" stroke="#1a1a1a" stroke-width="1.1"/>
<text transform="translate(287 346.54) scale(0.92 1)" font-size="10.6" text-anchor="end">0</text>
<path d="M298 320.15H301.4" stroke="#1a1a1a" stroke-width="1.1"/>
<text transform="translate(287 324.59) scale(0.92 1)" font-size="10.6" text-anchor="end">25</text>
<path d="M298 298.2H301.4" stroke="#1a1a1a" stroke-width="1.1"/>
<text transform="translate(287 302.64) scale(0.92 1)" font-size="10.6" text-anchor="end">50</text>
<path d="M298 276.25H301.4" stroke="#1a1a1a" stroke-width="1.1"/>
<text transform="translate(287 280.69) scale(0.92 1)" font-size="10.6" text-anchor="end">75</text>
<path d="M298 254.3H301.4" stroke="#1a1a1a" stroke-width="1.1"/>
<text transform="translate(287 258.74) scale(0.92 1)" font-size="10.6" text-anchor="end">100</text>
<text transform="translate(381 360.95) scale(1 1)" font-size="10.2" text-anchor="middle">Month</text>
</g>
<g id="CL">
<text transform="translate(79.85 525.16) scale(0.92 1)" font-size="10" text-anchor="middle">1</text>
<rect x="75.4" y="464.7" width="14.3" height="40.2" fill="url(#p1)" stroke="#6c6c6c" stroke-width="0.9"/>
<rect x="75.4" y="504.9" width="14.3" height="5.2" fill="url(#p2)" stroke="#262626" stroke-width="1.1"/>
<rect x="75.4" y="510.1" width="14.3" height="6.3" fill="url(#p3)" stroke="#161616" stroke-width="1.2"/>
<text transform="translate(100.45 525.16) scale(0.92 1)" font-size="10" text-anchor="middle">2</text>
<rect x="96" y="479.3" width="14.3" height="27" fill="url(#p1)" stroke="#6c6c6c" stroke-width="0.9"/>
<rect x="96" y="506.3" width="14.3" height="5.5" fill="url(#p2)" stroke="#262626" stroke-width="1.1"/>
<rect x="96" y="511.8" width="14.3" height="4.6" fill="url(#p3)" stroke="#161616" stroke-width="1.2"/>
<text transform="translate(121.05 525.16) scale(0.92 1)" font-size="10" text-anchor="middle">3</text>
<rect x="116.6" y="489.8" width="14.3" height="18" fill="url(#p1)" stroke="#6c6c6c" stroke-width="0.9"/>
<rect x="116.6" y="507.8" width="14.3" height="8.6" fill="url(#p3)" stroke="#161616" stroke-width="1.2"/>
<text transform="translate(141.65 525.16) scale(0.92 1)" font-size="10" text-anchor="middle">4</text>
<rect x="137.2" y="481.5" width="14.3" height="29.8" fill="url(#p1)" stroke="#6c6c6c" stroke-width="0.9"/>
<rect x="137.2" y="511.3" width="14.3" height="5.1" fill="url(#p3)" stroke="#161616" stroke-width="1.2"/>
<text transform="translate(162.25 525.16) scale(0.92 1)" font-size="10" text-anchor="middle">5</text>
<rect x="157.8" y="466.8" width="14.3" height="39.8" fill="url(#p1)" stroke="#6c6c6c" stroke-width="0.9"/>
<rect x="157.8" y="506.6" width="14.3" height="3.5" fill="url(#p2)" stroke="#262626" stroke-width="1.1"/>
<rect x="157.8" y="510.1" width="14.3" height="6.3" fill="url(#p3)" stroke="#161616" stroke-width="1.2"/>
<text transform="translate(182.85 525.16) scale(0.92 1)" font-size="10" text-anchor="middle">6</text>
<rect x="178.4" y="478.9" width="14.3" height="19.1" fill="url(#p1)" stroke="#6c6c6c" stroke-width="0.9"/>
<rect x="178.4" y="498" width="14.3" height="18.4" fill="url(#p3)" stroke="#161616" stroke-width="1.2"/>
<text transform="translate(203.45 525.16) scale(0.92 1)" font-size="10" text-anchor="middle">9</text>
<rect x="199" y="479.8" width="14.3" height="20.4" fill="url(#p1)" stroke="#6c6c6c" stroke-width="0.9"/>
<rect x="199" y="500.2" width="14.3" height="16.2" fill="url(#p3)" stroke="#161616" stroke-width="1.2"/>
<text transform="translate(224.05 525.16) scale(0.92 1)" font-size="10" text-anchor="middle">12</text>
<rect x="219.6" y="487.6" width="14.3" height="24.6" fill="url(#p1)" stroke="#6c6c6c" stroke-width="0.9"/>
<rect x="219.6" y="512.2" width="14.3" height="4.2" fill="url(#p3)" stroke="#161616" stroke-width="1.2"/>
<path d="M72.4 429.3V516.4H236.5" fill="none" stroke="#1a1a1a" stroke-width="1.2"/>
<path d="M69 516.4H72.4" stroke="#1a1a1a" stroke-width="1.1"/>
<text transform="translate(58.2 521.18) scale(0.92 1)" font-size="10" text-anchor="end">0</text>
<path d="M69 494.62H72.4" stroke="#1a1a1a" stroke-width="1.1"/>
<text transform="translate(58.2 499.4) scale(0.92 1)" font-size="10" text-anchor="end">25</text>
<path d="M69 472.85H72.4" stroke="#1a1a1a" stroke-width="1.1"/>
<text transform="translate(58.2 477.63) scale(0.92 1)" font-size="10" text-anchor="end">50</text>
<path d="M69 451.07H72.4" stroke="#1a1a1a" stroke-width="1.1"/>
<text transform="translate(58.2 455.85) scale(0.92 1)" font-size="10" text-anchor="end">75</text>
<path d="M69 429.3H72.4" stroke="#1a1a1a" stroke-width="1.1"/>
<text transform="translate(58.2 434.08) scale(0.92 1)" font-size="10" text-anchor="end">100</text>
<text transform="translate(150.8 534.65) scale(1 1)" font-size="10" text-anchor="middle">Month</text>
</g>
<g id="CR">
<text transform="translate(308.25 526) scale(0.93 1)" font-size="10.2" text-anchor="middle">1</text>
<rect x="303.65" y="434.5" width="14.6" height="9.5" fill="url(#p1)" stroke="#6c6c6c" stroke-width="0.9"/>
<rect x="303.65" y="444" width="14.6" height="7" fill="url(#p2)" stroke="#262626" stroke-width="1.1"/>
<rect x="303.65" y="451" width="14.6" height="66.1" fill="url(#p3)" stroke="#161616" stroke-width="1.2"/>
<text transform="translate(329.1 526) scale(0.93 1)" font-size="10.2" text-anchor="middle">2</text>
<rect x="324.5" y="470.8" width="14.6" height="29.5" fill="url(#p1)" stroke="#6c6c6c" stroke-width="0.9"/>
<rect x="324.5" y="500.3" width="14.6" height="5.1" fill="url(#p2)" stroke="#262626" stroke-width="1.1"/>
<rect x="324.5" y="505.4" width="14.6" height="11.7" fill="url(#p3)" stroke="#161616" stroke-width="1.2"/>
<text transform="translate(349.95 526) scale(0.93 1)" font-size="10.2" text-anchor="middle">3</text>
<rect x="345.35" y="484.7" width="14.6" height="21.6" fill="url(#p1)" stroke="#6c6c6c" stroke-width="0.9"/>
<rect x="345.35" y="506.3" width="14.6" height="2.6" fill="url(#p2)" stroke="#262626" stroke-width="1.1"/>
<rect x="345.35" y="508.9" width="14.6" height="8.2" fill="url(#p3)" stroke="#161616" stroke-width="1.2"/>
<text transform="translate(370.8 526) scale(0.93 1)" font-size="10.2" text-anchor="middle">4</text>
<rect x="366.2" y="477.4" width="14.6" height="31.9" fill="url(#p1)" stroke="#6c6c6c" stroke-width="0.9"/>
<rect x="366.2" y="509.3" width="14.6" height="1.7" fill="url(#p2)" stroke="#262626" stroke-width="1.1"/>
<rect x="366.2" y="511" width="14.6" height="6.1" fill="url(#p3)" stroke="#161616" stroke-width="1.2"/>
<text transform="translate(391.65 526) scale(0.93 1)" font-size="10.2" text-anchor="middle">5</text>
<rect x="387.05" y="469.5" width="14.6" height="35.6" fill="url(#p1)" stroke="#6c6c6c" stroke-width="0.9"/>
<rect x="387.05" y="505.1" width="14.6" height="3.8" fill="url(#p2)" stroke="#262626" stroke-width="1.1"/>
<rect x="387.05" y="508.9" width="14.6" height="8.2" fill="url(#p3)" stroke="#161616" stroke-width="1.2"/>
<text transform="translate(412.5 526) scale(0.93 1)" font-size="10.2" text-anchor="middle">6</text>
<rect x="407.9" y="491.1" width="14.6" height="17.8" fill="url(#p1)" stroke="#6c6c6c" stroke-width="0.9"/>
<rect x="407.9" y="508.9" width="14.6" height="3.5" fill="url(#p2)" stroke="#262626" stroke-width="1.1"/>
<rect x="407.9" y="512.4" width="14.6" height="4.7" fill="url(#p3)" stroke="#161616" stroke-width="1.2"/>
<text transform="translate(433.35 526) scale(0.93 1)" font-size="10.2" text-anchor="middle">9</text>
<rect x="428.75" y="479.5" width="14.6" height="29.8" fill="url(#p1)" stroke="#6c6c6c" stroke-width="0.9"/>
<rect x="428.75" y="509.3" width="14.6" height="3.4" fill="url(#p2)" stroke="#262626" stroke-width="1.1"/>
<rect x="428.75" y="512.7" width="14.6" height="4.4" fill="url(#p3)" stroke="#161616" stroke-width="1.2"/>
<text transform="translate(454.2 526) scale(0.93 1)" font-size="10.2" text-anchor="middle">12</text>
<rect x="449.6" y="470.5" width="14.6" height="46.6" fill="url(#p1)" stroke="#6c6c6c" stroke-width="0.9"/>
<path d="M300.5 429.8V517.1H467" fill="none" stroke="#1a1a1a" stroke-width="1.2"/>
<path d="M297.1 517.1H300.5" stroke="#1a1a1a" stroke-width="1.1"/>
<text transform="translate(286.4 521.65) scale(0.93 1)" font-size="10.2" text-anchor="end">0</text>
<path d="M297.1 495.28H300.5" stroke="#1a1a1a" stroke-width="1.1"/>
<text transform="translate(286.4 499.83) scale(0.93 1)" font-size="10.2" text-anchor="end">25</text>
<path d="M297.1 473.45H300.5" stroke="#1a1a1a" stroke-width="1.1"/>
<text transform="translate(286.4 478) scale(0.93 1)" font-size="10.2" text-anchor="end">50</text>
<path d="M297.1 451.62H300.5" stroke="#1a1a1a" stroke-width="1.1"/>
<text transform="translate(286.4 456.18) scale(0.93 1)" font-size="10.2" text-anchor="end">75</text>
<path d="M297.1 429.8H300.5" stroke="#1a1a1a" stroke-width="1.1"/>
<text transform="translate(286.4 434.35) scale(0.93 1)" font-size="10.2" text-anchor="end">100</text>
<text transform="translate(380.6 535.65) scale(1 1)" font-size="10.2" text-anchor="middle">Month</text>
</g>
<g id="DL">
<text transform="translate(79.5 707.89) scale(0.97 1)" font-size="12.0" text-anchor="middle">1</text>
<rect x="74.5" y="623.3" width="14.4" height="40.3" fill="url(#q1)" stroke="#6c6c6c" stroke-width="0.9"/>
<rect x="74.5" y="663.6" width="14.4" height="22" fill="url(#q2)" stroke="#262626" stroke-width="1.1"/>
<rect x="74.5" y="685.6" width="14.4" height="11.7" fill="url(#q3)" stroke="#161616" stroke-width="1.2"/>
<text transform="translate(100.23 707.89) scale(0.97 1)" font-size="12.0" text-anchor="middle">2</text>
<rect x="95.23" y="638.9" width="14.4" height="31.7" fill="url(#q1)" stroke="#6c6c6c" stroke-width="0.9"/>
<rect x="95.23" y="670.6" width="14.4" height="20.4" fill="url(#q2)" stroke="#262626" stroke-width="1.1"/>
<rect x="95.23" y="691" width="14.4" height="6.3" fill="url(#q3)" stroke="#161616" stroke-width="1.2"/>
<text transform="translate(120.96 707.89) scale(0.97 1)" font-size="12.0" text-anchor="middle">3</text>
<rect x="115.96" y="638.9" width="14.4" height="27" fill="url(#q1)" stroke="#6c6c6c" stroke-width="0.9"/>
<rect x="115.96" y="665.9" width="14.4" height="13.3" fill="url(#q2)" stroke="#262626" stroke-width="1.1"/>
<rect x="115.96" y="679.2" width="14.4" height="18.1" fill="url(#q3)" stroke="#161616" stroke-width="1.2"/>
<text transform="translate(141.69 707.89) scale(0.97 1)" font-size="12.0" text-anchor="middle">4</text>
<rect x="136.69" y="648.1" width="14.4" height="23.3" fill="url(#q1)" stroke="#6c6c6c" stroke-width="0.9"/>
<rect x="136.69" y="671.4" width="14.4" height="14.2" fill="url(#q2)" stroke="#262626" stroke-width="1.1"/>
<rect x="136.69" y="685.6" width="14.4" height="11.7" fill="url(#q3)" stroke="#161616" stroke-width="1.2"/>
<text transform="translate(162.42 707.89) scale(0.97 1)" font-size="12.0" text-anchor="middle">5</text>
<rect x="157.42" y="639.1" width="14.4" height="25.8" fill="url(#q1)" stroke="#6c6c6c" stroke-width="0.9"/>
<rect x="157.42" y="664.9" width="14.4" height="17.8" fill="url(#q2)" stroke="#262626" stroke-width="1.1"/>
<rect x="157.42" y="682.7" width="14.4" height="14.6" fill="url(#q3)" stroke="#161616" stroke-width="1.2"/>
<text transform="translate(183.15 707.89) scale(0.97 1)" font-size="12.0" text-anchor="middle">6</text>
<rect x="178.15" y="628.7" width="14.4" height="27.2" fill="url(#q1)" stroke="#6c6c6c" stroke-width="0.9"/>
<rect x="178.15" y="655.9" width="14.4" height="14.7" fill="url(#q2)" stroke="#262626" stroke-width="1.1"/>
<rect x="178.15" y="670.6" width="14.4" height="26.7" fill="url(#q3)" stroke="#161616" stroke-width="1.2"/>
<text transform="translate(203.88 707.89) scale(0.97 1)" font-size="12.0" text-anchor="middle">9</text>
<rect x="198.88" y="643.4" width="14.4" height="12.5" fill="url(#q1)" stroke="#6c6c6c" stroke-width="0.9"/>
<rect x="198.88" y="655.9" width="14.4" height="20.7" fill="url(#q2)" stroke="#262626" stroke-width="1.1"/>
<rect x="198.88" y="676.6" width="14.4" height="20.7" fill="url(#q3)" stroke="#161616" stroke-width="1.2"/>
<text transform="translate(224.61 707.89) scale(0.97 1)" font-size="12.0" text-anchor="middle">12</text>
<rect x="219.61" y="632.9" width="14.4" height="9.1" fill="url(#q1)" stroke="#6c6c6c" stroke-width="0.9"/>
<rect x="219.61" y="642" width="14.4" height="37.2" fill="url(#q2)" stroke="#262626" stroke-width="1.1"/>
<rect x="219.61" y="679.2" width="14.4" height="18.1" fill="url(#q3)" stroke="#161616" stroke-width="1.2"/>
<path d="M71.5 609.2V697.3H237" fill="none" stroke="#1a1a1a" stroke-width="1.2"/>
<path d="M68.1 697.3H71.5" stroke="#1a1a1a" stroke-width="1.1"/>
<text transform="translate(63 703.64) scale(0.97 1)" font-size="12.4" text-anchor="end">0</text>
<path d="M68.1 675.27H71.5" stroke="#1a1a1a" stroke-width="1.1"/>
<text transform="translate(63 681.61) scale(0.97 1)" font-size="12.4" text-anchor="end">25</text>
<path d="M68.1 653.25H71.5" stroke="#1a1a1a" stroke-width="1.1"/>
<text transform="translate(63 659.59) scale(0.97 1)" font-size="12.4" text-anchor="end">50</text>
<path d="M68.1 631.23H71.5" stroke="#1a1a1a" stroke-width="1.1"/>
<text transform="translate(63 637.56) scale(0.97 1)" font-size="12.4" text-anchor="end">75</text>
<path d="M68.1 609.2H71.5" stroke="#1a1a1a" stroke-width="1.1"/>
<text transform="translate(63 615.54) scale(0.97 1)" font-size="12.4" text-anchor="end">100</text>
<text transform="translate(155.1 718.7) scale(1 1)" font-size="12.2" text-anchor="middle">Month</text>
</g>
<g id="DR">
<text transform="translate(307.9 708.59) scale(0.99 1)" font-size="11.3" text-anchor="middle">1</text>
<rect x="303.3" y="609.5" width="14.6" height="12.18" fill="url(#q1)" stroke="#6c6c6c" stroke-width="0.9"/>
<rect x="303.3" y="621.68" width="14.6" height="6.44" fill="url(#q2)" stroke="#262626" stroke-width="1.1"/>
<rect x="303.3" y="628.13" width="14.6" height="70.27" fill="url(#q3)" stroke="#161616" stroke-width="1.2"/>
<text transform="translate(328.8 708.59) scale(0.99 1)" font-size="11.3" text-anchor="middle">2</text>
<rect x="324.2" y="617.35" width="14.6" height="31.92" fill="url(#q1)" stroke="#6c6c6c" stroke-width="0.9"/>
<rect x="324.2" y="649.28" width="14.6" height="32.02" fill="url(#q2)" stroke="#262626" stroke-width="1.1"/>
<rect x="324.2" y="681.3" width="14.6" height="17.1" fill="url(#q3)" stroke="#161616" stroke-width="1.2"/>
<text transform="translate(349.7 708.59) scale(0.99 1)" font-size="11.3" text-anchor="middle">3</text>
<rect x="345.1" y="630.45" width="14.6" height="47.33" fill="url(#q1)" stroke="#6c6c6c" stroke-width="0.9"/>
<rect x="345.1" y="677.77" width="14.6" height="11.88" fill="url(#q2)" stroke="#262626" stroke-width="1.1"/>
<rect x="345.1" y="689.66" width="14.6" height="8.74" fill="url(#q3)" stroke="#161616" stroke-width="1.2"/>
<text transform="translate(370.6 708.59) scale(0.99 1)" font-size="11.3" text-anchor="middle">4</text>
<rect x="366" y="640.52" width="14.6" height="38.37" fill="url(#q1)" stroke="#6c6c6c" stroke-width="0.9"/>
<rect x="366" y="678.88" width="14.6" height="10.77" fill="url(#q2)" stroke="#262626" stroke-width="1.1"/>
<rect x="366" y="689.66" width="14.6" height="8.74" fill="url(#q3)" stroke="#161616" stroke-width="1.2"/>
<text transform="translate(391.5 708.59) scale(0.99 1)" font-size="11.3" text-anchor="middle">5</text>
<rect x="386.9" y="643.84" width="14.6" height="24.87" fill="url(#q1)" stroke="#6c6c6c" stroke-width="0.9"/>
<rect x="386.9" y="668.71" width="14.6" height="21.25" fill="url(#q2)" stroke="#262626" stroke-width="1.1"/>
<rect x="386.9" y="689.96" width="14.6" height="8.44" fill="url(#q3)" stroke="#161616" stroke-width="1.2"/>
<text transform="translate(412.4 708.59) scale(0.99 1)" font-size="11.3" text-anchor="middle">6</text>
<rect x="407.8" y="646.96" width="14.6" height="27.89" fill="url(#q1)" stroke="#6c6c6c" stroke-width="0.9"/>
<rect x="407.8" y="674.85" width="14.6" height="14.3" fill="url(#q2)" stroke="#262626" stroke-width="1.1"/>
<rect x="407.8" y="689.15" width="14.6" height="9.25" fill="url(#q3)" stroke="#161616" stroke-width="1.2"/>
<text transform="translate(433.3 708.59) scale(0.99 1)" font-size="11.3" text-anchor="middle">9</text>
<rect x="428.7" y="631.25" width="14.6" height="16.62" fill="url(#q1)" stroke="#6c6c6c" stroke-width="0.9"/>
<rect x="428.7" y="647.87" width="14.6" height="29.61" fill="url(#q2)" stroke="#262626" stroke-width="1.1"/>
<rect x="428.7" y="677.47" width="14.6" height="20.93" fill="url(#q3)" stroke="#161616" stroke-width="1.2"/>
<text transform="translate(454.2 708.59) scale(0.99 1)" font-size="11.3" text-anchor="middle">12</text>
<rect x="449.6" y="616.45" width="14.6" height="54.88" fill="url(#q1)" stroke="#6c6c6c" stroke-width="0.9"/>
<rect x="449.6" y="671.33" width="14.6" height="27.07" fill="url(#q2)" stroke="#262626" stroke-width="1.1"/>
<path d="M300.5 609.5V698.4H467" fill="none" stroke="#1a1a1a" stroke-width="1.2"/>
<path d="M297.1 698.4H300.5" stroke="#1a1a1a" stroke-width="1.1"/>
<text transform="translate(288.6 704.97) scale(0.99 1)" font-size="11.1" text-anchor="end">0</text>
<path d="M297.1 676.17H300.5" stroke="#1a1a1a" stroke-width="1.1"/>
<text transform="translate(288.6 682.75) scale(0.99 1)" font-size="11.1" text-anchor="end">25</text>
<path d="M297.1 653.95H300.5" stroke="#1a1a1a" stroke-width="1.1"/>
<text transform="translate(288.6 660.52) scale(0.99 1)" font-size="11.1" text-anchor="end">50</text>
<path d="M297.1 631.73H300.5" stroke="#1a1a1a" stroke-width="1.1"/>
<text transform="translate(288.6 638.3) scale(0.99 1)" font-size="11.1" text-anchor="end">75</text>
<path d="M297.1 609.5H300.5" stroke="#1a1a1a" stroke-width="1.1"/>
<text transform="translate(288.6 616.07) scale(0.99 1)" font-size="11.1" text-anchor="end">100</text>
<text transform="translate(382.4 719.4) scale(1 1)" font-size="11.8" text-anchor="middle">Month</text>
</g>
<circle cx="456.7" cy="483.2" r="0.8" fill="#111"/>
<g id="legend">
<clipPath id="c1"><rect x="486.9" y="638.1" width="16.2" height="19.6"/></clipPath>
<clipPath id="c2"><rect x="486.9" y="657.7" width="16.2" height="18.2"/></clipPath>
<clipPath id="c3"><rect x="486.9" y="675.9" width="16.2" height="18.8"/></clipPath>
<path clip-path="url(#c1)" d="M487.7 638.8l1.1-.9M494.7 638.8l1.1-.9M501.7 638.8l1.1-.9M508.7 638.8l1.1-.9M515.7 638.8l1.1-.9M484.2 642.6l1.1-.9M491.2 642.6l1.1-.9M498.2 642.6l1.1-.9M505.2 642.6l1.1-.9M512.2 642.6l1.1-.9M487.7 646.4l1.1-.9M494.7 646.4l1.1-.9M501.7 646.4l1.1-.9M508.7 646.4l1.1-.9M515.7 646.4l1.1-.9M484.2 650.2l1.1-.9M491.2 650.2l1.1-.9M498.2 650.2l1.1-.9M505.2 650.2l1.1-.9M512.2 650.2l1.1-.9M487.7 654l1.1-.9M494.7 654l1.1-.9M501.7 654l1.1-.9M508.7 654l1.1-.9M515.7 654l1.1-.9M484.2 657.8l1.1-.9M491.2 657.8l1.1-.9M498.2 657.8l1.1-.9M505.2 657.8l1.1-.9M512.2 657.8l1.1-.9M487.7 661.6l1.1-.9M494.7 661.6l1.1-.9M501.7 661.6l1.1-.9M508.7 661.6l1.1-.9M515.7 661.6l1.1-.9M484.2 665.4l1.1-.9M491.2 665.4l1.1-.9M498.2 665.4l1.1-.9M505.2 665.4l1.1-.9M512.2 665.4l1.1-.9" stroke="#5a5a5a" stroke-width="1" fill="none"/>
<g clip-path="url(#c2)" fill="#1a1a1a"><circle cx="487.8" cy="657.6" r="0.75"/><circle cx="487.8" cy="660.25" r="0.75"/><circle cx="487.8" cy="662.9" r="0.75"/><circle cx="487.8" cy="665.55" r="0.75"/><circle cx="487.8" cy="668.2" r="0.75"/><circle cx="487.8" cy="670.85" r="0.75"/><circle cx="487.8" cy="673.5" r="0.75"/><circle cx="487.8" cy="676.15" r="0.75"/><circle cx="491.3" cy="657.6" r="0.75"/><circle cx="491.3" cy="660.25" r="0.75"/><circle cx="491.3" cy="662.9" r="0.75"/><circle cx="491.3" cy="665.55" r="0.75"/><circle cx="491.3" cy="668.2" r="0.75"/><circle cx="491.3" cy="670.85" r="0.75"/><circle cx="491.3" cy="673.5" r="0.75"/><circle cx="491.3" cy="676.15" r="0.75"/><circle cx="494.8" cy="657.6" r="0.75"/><circle cx="494.8" cy="660.25" r="0.75"/><circle cx="494.8" cy="662.9" r="0.75"/><circle cx="494.8" cy="665.55" r="0.75"/><circle cx="494.8" cy="668.2" r="0.75"/><circle cx="494.8" cy="670.85" r="0.75"/><circle cx="494.8" cy="673.5" r="0.75"/><circle cx="494.8" cy="676.15" r="0.75"/><circle cx="498.3" cy="657.6" r="0.75"/><circle cx="498.3" cy="660.25" r="0.75"/><circle cx="498.3" cy="662.9" r="0.75"/><circle cx="498.3" cy="665.55" r="0.75"/><circle cx="498.3" cy="668.2" r="0.75"/><circle cx="498.3" cy="670.85" r="0.75"/><circle cx="498.3" cy="673.5" r="0.75"/><circle cx="498.3" cy="676.15" r="0.75"/><circle cx="501.8" cy="657.6" r="0.75"/><circle cx="501.8" cy="660.25" r="0.75"/><circle cx="501.8" cy="662.9" r="0.75"/><circle cx="501.8" cy="665.55" r="0.75"/><circle cx="501.8" cy="668.2" r="0.75"/><circle cx="501.8" cy="670.85" r="0.75"/><circle cx="501.8" cy="673.5" r="0.75"/><circle cx="501.8" cy="676.15" r="0.75"/></g>
<path clip-path="url(#c3)" d="M420.9 648.2L480.9 708.2M420.9 708.2L480.9 648.2M426.1 648.2L486.1 708.2M426.1 708.2L486.1 648.2M431.3 648.2L491.3 708.2M431.3 708.2L491.3 648.2M436.5 648.2L496.5 708.2M436.5 708.2L496.5 648.2M441.7 648.2L501.7 708.2M441.7 708.2L501.7 648.2M446.9 648.2L506.9 708.2M446.9 708.2L506.9 648.2M452.1 648.2L512.1 708.2M452.1 708.2L512.1 648.2M457.3 648.2L517.3 708.2M457.3 708.2L517.3 648.2M462.5 648.2L522.5 708.2M462.5 708.2L522.5 648.2M467.7 648.2L527.7 708.2M467.7 708.2L527.7 648.2M472.9 648.2L532.9 708.2M472.9 708.2L532.9 648.2M478.1 648.2L538.1 708.2M478.1 708.2L538.1 648.2M483.3 648.2L543.3 708.2M483.3 708.2L543.3 648.2M488.5 648.2L548.5 708.2M488.5 708.2L548.5 648.2M493.7 648.2L553.7 708.2M493.7 708.2L553.7 648.2M498.9 648.2L558.9 708.2M498.9 708.2L558.9 648.2M504.1 648.2L564.1 708.2M504.1 708.2L564.1 648.2" stroke="#111" stroke-width="1.05" fill="none"/>
<rect x="486.9" y="638.1" width="16.2" height="19.6" fill="none" stroke="#777" stroke-width="0.9"/>
<rect x="486.9" y="657.7" width="16.2" height="18.2" fill="none" stroke="#333" stroke-width="1.1"/>
<rect x="486.9" y="675.9" width="16.2" height="18.8" fill="none" stroke="#111" stroke-width="1.5"/>
<g font-size="12.7">
<text x="510.9" y="651">1</text>
<text x="510.9" y="669.4">2</text>
<text x="510.9" y="687.3">3</text>
</g>
</g>
</svg>
</body></html>
